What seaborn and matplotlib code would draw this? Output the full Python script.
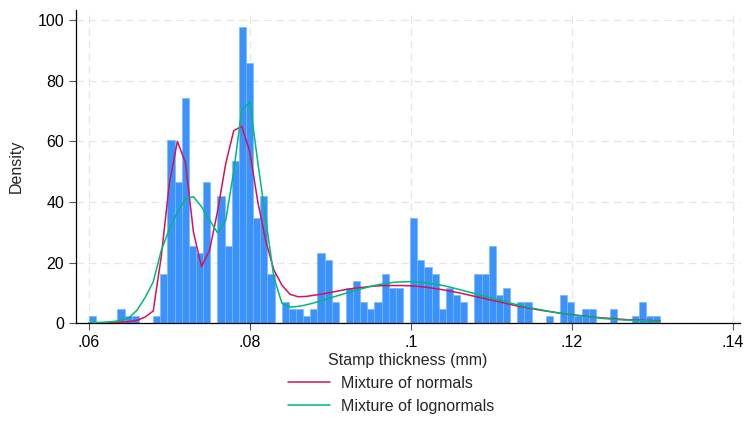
import numpy as np
import pandas as pd
import matplotlib
matplotlib.use("Agg")
import matplotlib.pyplot as plt
import seaborn as sns

# histogram: 80 bins between the min and max thickness, heights read as densities
bin_low = 0.060
bin_high = 0.131
n_bins = 80
bar_density = [
    2.3, 0, 0, 0, 4.6, 2.3, 2.3, 0, 0, 2.3,
    16.3, 60.4, 46.5, 74.3, 25.6, 23.2, 46.5, 0, 41.8, 25.6,
    53.4, 97.6, 85.9, 34.8, 41.8, 16.3, 0, 7.0, 4.6, 4.6,
    2.3, 4.6, 23.2, 20.9, 7.0, 0, 11.6, 13.9, 7.0, 4.6,
    7.0, 16.3, 11.6, 11.6, 0, 34.8, 20.9, 18.6, 16.3, 4.6,
    11.6, 9.3, 7.0, 0, 16.3, 16.3, 25.6, 9.3, 11.6, 0,
    7.0, 7.0, 0, 0, 2.3, 0, 9.3, 7.0, 2.3, 4.6,
    4.6, 0, 0, 4.6, 0, 0, 2.3, 7.0, 2.3, 2.3,
]

# fitted densities evaluated at the observed thickness values
thickness = [round(0.060 + 0.001 * i, 3) for i in range(72)]
dens_normal = [
    0.1, 0.1, 0.1, 0.2, 0.3, 0.5, 0.9, 2.0, 4.0, 22.0,
    46.0, 60.0, 53.0, 30.0, 18.6, 24.0, 37.0, 52.5, 63.5, 65.0,
    56.5, 40.0, 27.0, 17.5, 12.5, 9.5, 8.7, 8.8, 9.2, 9.6,
    10.1, 10.6, 11.1, 11.5, 11.8, 12.1, 12.3, 12.4, 12.4, 12.4,
    12.3, 12.1, 11.8, 11.4, 11.0, 10.5, 10.0, 9.4, 8.8, 8.2,
    7.6, 7.0, 6.4, 5.8, 5.3, 4.8, 4.3, 3.9, 3.5, 3.1,
    2.8, 2.5, 2.2, 1.9, 1.7, 1.5, 1.3, 1.1, 1.0, 0.9,
    0.8, 0.7,
]
dens_lognormal = [
    0.1, 0.2, 0.3, 0.5, 0.9, 1.8, 4.3, 8.5, 13.6, 24.0,
    31.0, 36.5, 41.0, 41.7, 38.4, 34.0, 29.8, 33.8, 50.0, 70.3,
    73.0, 53.0, 34.0, 15.0, 6.5, 5.3, 5.5, 6.0, 6.7, 7.5,
    8.3, 9.1, 9.9, 10.7, 11.4, 12.1, 12.7, 13.1, 13.5, 13.6,
    13.7, 13.6, 13.3, 12.9, 12.4, 11.8, 11.1, 10.4, 9.7, 9.0,
    8.3, 7.6, 6.9, 6.2, 5.6, 5.0, 4.5, 4.0, 3.5, 3.1,
    2.7, 2.4, 2.1, 1.8, 1.5, 1.3, 1.1, 1.0, 0.9, 0.8,
    0.7, 0.6,
]

x_ticks = [0.06, 0.08, 0.10, 0.12, 0.14]
x_ticklabels = [".06", ".08", ".1", ".12", ".14"]
y_ticks = [0, 20, 40, 60, 80, 100]

sns.set_style("white")
plt.rcParams["font.family"] = ["Liberation Sans", "DejaVu Sans"]
plt.rcParams["font.size"] = 11.5

fig = plt.figure(figsize=(7.45, 4.24), dpi=100)
ax = fig.add_axes([0.102, 0.238, 0.891, 0.738])

edges = list(np.linspace(bin_low, bin_high, n_bins + 1))
bars = pd.DataFrame({
    "center": [(a + b) / 2 for a, b in zip(edges[:-1], edges[1:])],
    "density": bar_density,
})

sns.histplot(data=bars, x="center", weights="density", bins=edges, stat="count",
             color="#3a92ff", edgecolor="#7db8ff", linewidth=0.5, alpha=1,
             ax=ax, zorder=2)

sns.lineplot(x=thickness, y=dens_normal, color="#d51159", linewidth=1.1,
             ax=ax, label="Mixture of normals", sort=False, estimator=None, zorder=3)
sns.lineplot(x=thickness, y=dens_lognormal, color="#00b878", linewidth=1.1,
             ax=ax, label="Mixture of lognormals", sort=False, estimator=None, zorder=3)

ax.set_xlim(0.0584, 0.1409)
ax.set_ylim(0, 103.3)
ax.set_xticks(x_ticks)
ax.set_xticklabels(x_ticklabels)
ax.set_yticks(y_ticks)
ax.set_xlabel("Stamp thickness (mm)", labelpad=2)
ax.set_ylabel("Density", labelpad=10)

ax.grid(True, color="#e6e6e6", linestyle=(0, (6, 4)), linewidth=0.9, zorder=0)
ax.set_axisbelow(True)
for side in ["top", "right"]:
    ax.spines[side].set_visible(False)
for side in ["left", "bottom"]:
    ax.spines[side].set_color("black")
    ax.spines[side].set_linewidth(0.9)
ax.tick_params(axis="both", direction="out", length=5, width=0.8,
               color="#555555", labelcolor="black", bottom=True, left=True)

handles, labels = ax.get_legend_handles_labels()
ax.get_legend().remove()
fig.legend(handles, labels, loc="center", bbox_to_anchor=(0.525, 0.069),
           frameon=False, handlelength=2.6, handletextpad=0.7,
           labelspacing=0.5, fontsize=11.5)

fig.savefig("out.png", dpi=100)
